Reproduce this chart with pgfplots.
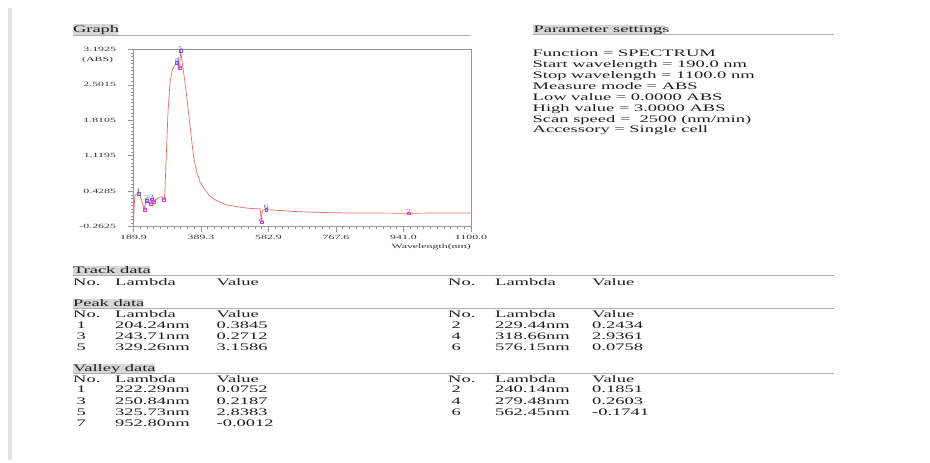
\documentclass[border=0pt]{standalone}
\usepackage{fontspec}
\setmainfont[FakeStretch=1.85]{Liberation Serif}
\usepackage{pgfplots}
\pgfplotsset{compat=1.18}
\definecolor{curve}{RGB}{232,110,100}
\definecolor{peakc}{RGB}{90,90,230}
\definecolor{valc}{RGB}{225,60,225}
\definecolor{hbox}{RGB}{215,215,215}
\definecolor{rulec}{RGB}{175,175,175}
\definecolor{txt}{RGB}{30,30,30}
\definecolor{frame}{RGB}{150,150,150}
\newcommand\ts{\fontsize{6.4}{7}\selectfont}
\newcommand\ms{\fontsize{10}{11}\selectfont}
\newcommand\mk{\fontsize{5.5}{6}\selectfont}

\pgfplotstableread{
x y
190.0 -0.20
192.0 0.15
194.0 0.33
198.0 0.37
204.24 0.3845
210.0 0.33
216.0 0.20
222.29 0.0752
225.0 0.18
229.44 0.2434
234.0 0.21
240.14 0.1851
243.71 0.2712
247.0 0.24
250.84 0.2187
258.0 0.27
266.0 0.31
273.0 0.32
277.0 0.29
279.48 0.2603
282.0 0.30
286.0 1.00
292.0 2.00
298.0 2.55
304.0 2.78
310.0 2.87
318.66 2.9361
322.0 2.90
325.73 2.8383
327.5 3.00
329.26 3.1586
333.0 2.97
338.0 2.74
343.0 2.50
350.0 2.10
357.6 1.66
367.4 1.10
377.0 0.80
387.0 0.60
400.0 0.46
415.0 0.33
430.0 0.26
445.0 0.21
463.0 0.16
500.0 0.12
520.0 0.10
540.0 0.09
559.0 0.085
562.45 -0.1741
564.5 0.03
570.0 0.07
576.15 0.0758
590.0 0.065
620.0 0.05
651.0 0.035
700.0 0.02
744.0 0.012
800.0 0.005
900.0 0.002
952.8 -0.0012
1000.0 0.003
1100.0 0.005
}\spectrum

\pgfplotstableread{
x y lab
204.24 0.3845 1
229.44 0.2434 2
243.71 0.2712 3
318.66 2.9361 4
329.26 3.1586 5
576.15 0.0758 6
}\peaks

\pgfplotstableread{
x y lab
222.29 0.0752 1
240.14 0.1851 2
250.84 0.2187 3
279.48 0.2603 4
325.73 2.8383 5
562.45 -0.1741 6
952.8 -0.0012 7
}\valleys

\begin{document}
\begin{tikzpicture}[x=1pt,y=1pt]
\path[use as bounding box, fill=white] (0,0) rectangle (930,463);
\fill[gray!22] (8.3,3) rectangle (12.3,455);

% headings
\fill[hbox] (72.5,428) rectangle (117.5,439);
\draw[rulec, line width=0.8pt] (72.5,428) -- (471,428);
\node[anchor=base west, inner sep=0, font=\ms, text=txt] at (72.8,430) {Graph};

\fill[hbox] (533,428.5) rectangle (665,438);
\draw[rulec, line width=0.8pt] (533,428.5) -- (834,428.5);
\node[anchor=base west, inner sep=0, font=\ms, text=txt] at (533.3,430) {Parameter settings};

\fill[hbox] (72.5,187.3) rectangle (150,196.5);
\draw[rulec, line width=0.8pt] (72.5,187.3) -- (834,187.3);
\node[anchor=base west, inner sep=0, font=\ms, text=txt] at (72.8,189) {Track data};

\fill[hbox] (72.5,154.7) rectangle (143,163.5);
\draw[rulec, line width=0.8pt] (72.5,154.7) -- (834,154.7);
\node[anchor=base west, inner sep=0, font=\ms, text=txt] at (72.8,156.5) {Peak data};

\fill[hbox] (72.5,89.7) rectangle (155,99);
\draw[rulec, line width=0.8pt] (72.5,89.7) -- (834,89.7);
\node[anchor=base west, inner sep=0, font=\ms, text=txt] at (72.8,91.5) {Valley data};

% parameter settings
\begin{scope}[every node/.style={anchor=base west, inner sep=0, font=\ms, text=txt}]
\node at (532.5,406.3) {Function = SPECTRUM};
\node at (532.5,395.4) {Start wavelength = 190.0 nm};
\node at (532.5,384.5) {Stop wavelength = 1100.0 nm};
\node at (532.5,373.6) {Measure mode = ABS};
\node at (532.5,362.7) {Low value = 0.0000 ABS};
\node at (532.5,351.8) {High value = 3.0000 ABS};
\node at (532.5,340.9) {Scan speed = \ 2500 (nm/min)};
\node at (532.5,330.0) {Accessory = Single cell};

% track header
\node at (73,177.7) {No.}; \node at (115,177.7) {Lambda}; \node at (216.5,177.7) {Value};
\node at (448,177.7) {No.}; \node at (495,177.7) {Lambda}; \node at (592,177.7) {Value};
% peak
\node at (73,145.8) {No.}; \node at (115,145.8) {Lambda}; \node at (216.5,145.8) {Value};
\node at (448,145.8) {No.}; \node at (495,145.8) {Lambda}; \node at (592,145.8) {Value};
\node at (76.5,134.8) {1}; \node at (115,134.8) {204.24nm}; \node at (216.5,134.8) {0.3845};
\node at (76.5,123.8) {3}; \node at (115,123.8) {243.71nm}; \node at (216.5,123.8) {0.2712};
\node at (76.5,112.8) {5}; \node at (115,112.8) {329.26nm}; \node at (216.5,112.8) {3.1586};
\node at (451.5,134.8) {2}; \node at (495,134.8) {229.44nm}; \node at (592,134.8) {0.2434};
\node at (451.5,123.8) {4}; \node at (495,123.8) {318.66nm}; \node at (592,123.8) {2.9361};
\node at (451.5,112.8) {6}; \node at (495,112.8) {576.15nm}; \node at (592,112.8) {0.0758};
% valley
\node at (73,80.8) {No.}; \node at (115,80.8) {Lambda}; \node at (216.5,80.8) {Value};
\node at (448,80.8) {No.}; \node at (495,80.8) {Lambda}; \node at (592,80.8) {Value};
\node at (76.5,70.2) {1}; \node at (115,70.2) {222.29nm}; \node at (216.5,70.2) {0.0752};
\node at (76.5,58.9) {3}; \node at (115,58.9) {250.84nm}; \node at (216.5,58.9) {0.2187};
\node at (76.5,47.5) {5}; \node at (115,47.5) {325.73nm}; \node at (216.5,47.5) {2.8383};
\node at (76.5,36.2) {7}; \node at (115,36.2) {952.80nm}; \node at (216.5,36.2) {-0.0012};
\node at (451.5,70.2) {2}; \node at (495,70.2) {240.14nm}; \node at (592,70.2) {0.1851};
\node at (451.5,58.9) {4}; \node at (495,58.9) {279.48nm}; \node at (592,58.9) {0.2603};
\node at (451.5,47.5) {6}; \node at (495,47.5) {562.45nm}; \node at (592,47.5) {-0.1741};
\end{scope}

\begin{axis}[
  at={(133.5pt,236.3pt)}, anchor=south west,
  scale only axis, width=337.5pt, height=177.4pt,
  x coord trafo/.code={\pgfmathparse{#1<389.3 ? (#1-189.9)/199.4 : (#1<582.9 ? 1+(#1-389.3)/193.6 : (#1<767.6 ? 2+(#1-582.9)/184.7 : (#1<941 ? 3+(#1-767.6)/173.4 : 4+(#1-941)/159)))}},
  xmin=189.9, xmax=1100, ymin=-0.2625, ymax=3.1925,
  xtick={189.9,389.3,582.9,767.6,941,1100},
  xticklabels={189.9,389.3,582.9,767.6,941.0,1100.0},
  ytick={-0.2625,0.4285,1.1195,1.8105,2.5015,3.1925},
  yticklabels={-0.2625,0.4285,1.1195,1.8105,2.5015,3.1925},
  minor x tick num=9, minor y tick num=9,
  xtick pos=bottom, ytick pos=left,
  tick align=outside, major tick length=5pt, minor tick length=2.7pt,
  axis line style={frame, line width=0.6pt},
  tick style={frame, line width=0.5pt},
  ticklabel style={font=\ts, text=black!80},
  yticklabel style={xshift=-9pt},
  xlabel={Wavelength(nm)},
  every axis x label/.style={at={(axis description cs:1,0)}, anchor=east, yshift=-20pt, inner sep=0pt, font=\ts, text=black!80},
  every axis y label/.style={at={(axis description cs:0,1)}, anchor=east, xshift=-20.2pt, yshift=-11pt, inner sep=0pt, font=\ts, text=black!80},
  ylabel={(ABS)},
  clip=false,
]
\addplot[curve, line width=0.7pt, mark=none] table[x=x,y=y] {\spectrum};
\addplot[only marks, mark=square, mark size=1.4pt, mark options={peakc, line width=0.4pt},
  point meta=explicit symbolic, nodes near coords={\pgfplotspointmeta},
  nodes near coords style={font=\mk, text=peakc, anchor=south, inner sep=0.6pt}]
  table[x=x,y=y,meta=lab] {\peaks};
\addplot[only marks, mark=square, mark size=1.4pt, mark options={valc, line width=0.4pt},
  point meta=explicit symbolic, nodes near coords={\pgfplotspointmeta},
  nodes near coords style={font=\mk, text=valc, anchor=south, yshift=-1.5pt, inner sep=0.6pt}]
  table[x=x,y=y,meta=lab] {\valleys};
\end{axis}
\end{tikzpicture}
\end{document}
